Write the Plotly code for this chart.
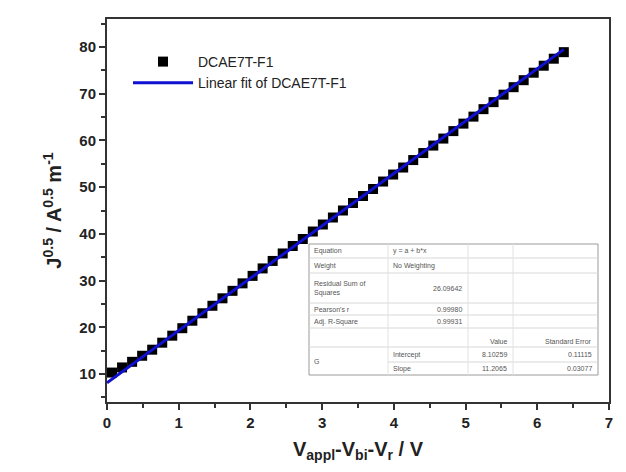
import plotly.graph_objects as go

# ---- data ----
x_data = [0.07, 0.21, 0.35, 0.49, 0.63, 0.77, 0.91, 1.05, 1.19, 1.33, 1.47, 1.61,
          1.75, 1.89, 2.03, 2.17, 2.31, 2.45, 2.59, 2.73, 2.87, 3.01, 3.15, 3.29,
          3.43, 3.57, 3.71, 3.85, 3.99, 4.13, 4.27, 4.41, 4.55, 4.69, 4.83, 4.97,
          5.11, 5.25, 5.39, 5.53, 5.67, 5.81, 5.95, 6.09, 6.23, 6.37]
y_data = [10.3, 11.4, 12.6, 13.9, 15.2, 16.7, 18.2, 19.8, 21.4, 23.0, 24.6, 26.2,
          27.8, 29.4, 31.0, 32.6, 34.2, 35.8, 37.4, 38.9, 40.5, 42.0, 43.5, 45.0,
          46.6, 48.1, 49.6, 51.2, 52.7, 54.2, 55.8, 57.3, 58.9, 60.4, 62.0, 63.6,
          65.1, 66.7, 68.2, 69.8, 71.4, 72.9, 74.5, 76.0, 77.5, 78.9]
fit_x = [0.0, 6.37]
fit_y = [8.10, 79.49]

series_name = "DCAE7T-F1"
fit_name = "Linear fit of DCAE7T-F1"

x_ticks = [0, 1, 2, 3, 4, 5, 6, 7]
y_ticks = [10, 20, 30, 40, 50, 60, 70, 80]

table_rows = [
    ["Equation", "y = a + b*x", "", ""],
    ["Weight", "No Weighting", "", ""],
    ["Residual Sum of<br>Squares", "26.09642", "", ""],
    ["Pearson's r", "0.99980", "", ""],
    ["Adj. R-Square", "0.99931", "", ""],
    ["", "", "Value", "Standard Error"],
    ["G", "Intercept", "8.10259", "0.11115"],
    ["", "Slope", "11.2065", "0.03077"],
]

# ---- layout geometry (pixels) ----
W, H = 626, 472
L, R, T, B = 107, 609, 19, 402


def px(xp):
    return (xp - L) / (R - L)


def py(yp):
    return (B - yp) / (B - T)


fig = go.Figure()
fig.add_trace(go.Scatter(
    x=x_data, y=y_data, mode="markers", name=series_name,
    marker=dict(symbol="square", size=10, color="#000000", line=dict(width=0)),
))
fig.add_trace(go.Scatter(
    x=fit_x, y=fit_y, mode="lines", name=fit_name,
    line=dict(color="#1010d0", width=3),
))

# ---- table ----
tx0, tx1 = 309, 598
col_x = [309, 388, 468, 513, 598]
row_y = [244, 258, 273, 303, 315, 328, 347, 362, 375]
shapes = []
shapes.append(dict(type="rect", xref="paper", yref="paper",
                   x0=px(tx0), x1=px(tx1), y0=py(row_y[-1]), y1=py(row_y[0]),
                   fillcolor="white", line=dict(color="#9a9a9a", width=1), layer="above"))
for yy in row_y[1:-1]:
    x_start = tx0
    if yy == 362:
        x_start = col_x[1]
    shapes.append(dict(type="line", xref="paper", yref="paper",
                       x0=px(x_start), x1=px(tx1), y0=py(yy), y1=py(yy),
                       line=dict(color="#d8d8d8", width=1), layer="above"))
for cx in col_x[1:-1]:
    shapes.append(dict(type="line", xref="paper", yref="paper",
                       x0=px(cx), x1=px(cx), y0=py(row_y[-1]), y1=py(row_y[0]),
                       line=dict(color="#e2e2e2", width=1), layer="above"))

annotations = []
tfont = dict(family="Arial", size=7, color="#555555")
for i, row in enumerate(table_rows):
    yc = (row_y[i] + row_y[i + 1]) / 2
    if i == 6:
        yc = (row_y[6] + row_y[8]) / 2
    for j, txt in enumerate(row):
        if not txt:
            continue
        if j == 0 or (j == 1 and i in (0, 1, 6, 7)):
            xa, anchor = col_x[j] + 3, "left"
        else:
            xa, anchor = col_x[j + 1] - 4, "right"
        yc_use = yc
        if i == 6 and j > 0:
            yc_use = (row_y[6] + row_y[7]) / 2
        if i == 5:
            yc_use = row_y[6] - 6
        annotations.append(dict(x=px(xa), y=py(yc_use), xref="paper", yref="paper",
                                text=txt, showarrow=False, xanchor=anchor,
                                yanchor="middle", font=tfont, align="left"))

tickfont = dict(family="Liberation Sans, Arial", size=15, color="#222222", weight="bold")

fig.update_layout(
    width=W, height=H,
    margin=dict(l=L, r=W - R, t=T, b=H - B),
    paper_bgcolor="white", plot_bgcolor="white",
    showlegend=True,
    legend=dict(x=px(128), y=py(46), xanchor="left", yanchor="top",
                bgcolor="rgba(0,0,0,0)",
                font=dict(family="Liberation Sans, Arial", size=14, color="#222222"),
                itemwidth=60, tracegroupgap=0),
    shapes=shapes,
    annotations=annotations,
    xaxis=dict(
        range=[0, 7], tickvals=x_ticks, ticks="outside", ticklen=6, tickwidth=1.5,
        tickcolor="#333333", showline=True, linecolor="#333333", linewidth=2,
        mirror=True, showgrid=False, zeroline=False,
        minor=dict(dtick=0.5, ticks="outside", ticklen=4, tickwidth=1.5, tickcolor="#333333"),
        tickfont=tickfont,
        title=dict(text="<b>V<sub>appl</sub>-V<sub>bi</sub>-V<sub>r</sub> / V</b>",
                   font=dict(family="Liberation Sans, Arial", size=20, color="#222222"),
                   standoff=12),
    ),
    yaxis=dict(
        range=[4, 86], tickvals=y_ticks, ticks="outside", ticklen=6, tickwidth=1.5,
        tickcolor="#333333", showline=True, linecolor="#333333", linewidth=2,
        mirror=True, showgrid=False, zeroline=False,
        minor=dict(dtick=5, ticks="outside", ticklen=4, tickwidth=1.5, tickcolor="#333333"),
        tickfont=tickfont,
        title=dict(text="<b>J<sup>0.5</sup> / A<sup>0.5</sup> m<sup>-1</sup></b>",
                   font=dict(family="Liberation Sans, Arial", size=20, color="#222222"),
                   standoff=12),
    ),
)

fig.write_html("out.html")
